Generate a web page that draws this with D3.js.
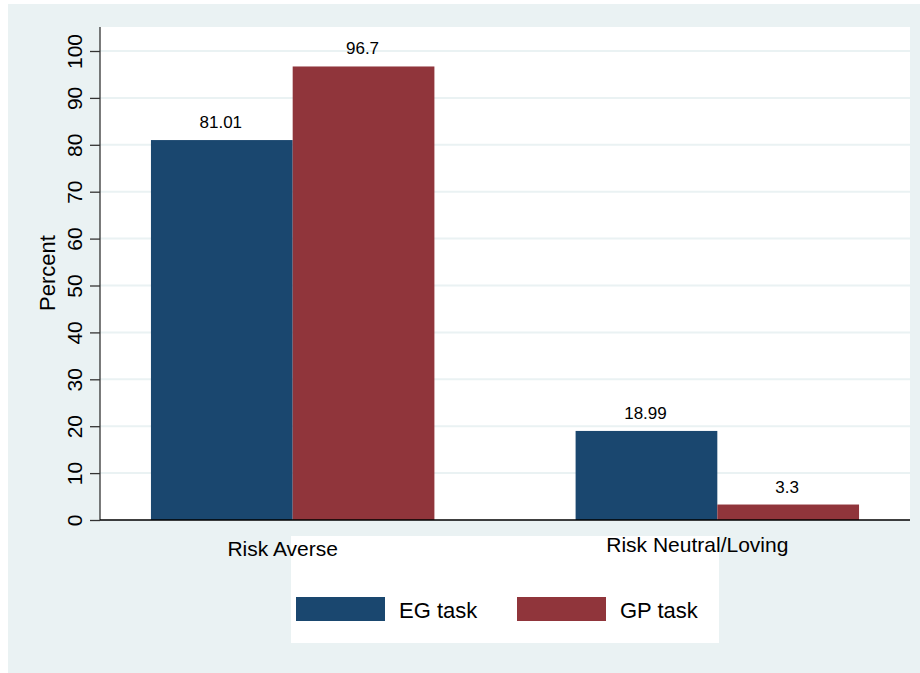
<!DOCTYPE html>
<html lang="en">
<head>
<meta charset="utf-8">
<title>Risk attitudes by task</title>
<script src="https://cdn.jsdelivr.net/npm/d3@7"></script>
<style>
  body { margin: 0; background: #fff; }
  text { font-family: "Liberation Sans", Arial, Helvetica, sans-serif; fill: #000; }
</style>
</head>
<body>
<script>
// data
var categories = ["Risk Averse", "Risk Neutral/Loving"];
var series = ["EG task", "GP task"];
var egValues = [81.01, 18.99];
var gpValues = [96.7, 3.3];
var yTicks = [0, 10, 20, 30, 40, 50, 60, 70, 80, 90, 100];

var colors = {"EG task": "#1a476f", "GP task": "#90353b"};
var w = 920, h = 673;
var plot = {left: 100, right: 910, top: 27, bottom: 520};

var svg = d3.select("body").append("svg")
  .attr("width", w).attr("height", h);

// outer background
svg.append("rect").attr("x", 8).attr("y", 4)
  .attr("width", w - 8).attr("height", h - 4).attr("fill", "#eaf2f3");
// plot region
svg.append("rect").attr("x", plot.left).attr("y", plot.top)
  .attr("width", plot.right - plot.left).attr("height", plot.bottom - plot.top)
  .attr("fill", "#fff");

var y = d3.scaleLinear().domain([0, 100]).range([plot.bottom, 51]);
var x0 = d3.scaleBand().domain(categories).range([plot.left, plot.right])
  .paddingInner(0.3325).paddingOuter(0.12);
var x1 = d3.scaleBand().domain(series).range([0, x0.bandwidth()]);

// gridlines
svg.append("g").selectAll("line")
  .data(yTicks.filter(function(d) { return d > 0; }))
  .enter().append("line")
  .attr("x1", plot.left).attr("x2", plot.right)
  .attr("y1", function(d) { return y(d); }).attr("y2", function(d) { return y(d); })
  .attr("stroke", "#eaf2f3").attr("stroke-width", 2);

// bars
var rows = categories.map(function(c, i) {
  return {cat: c, vals: [{s: "EG task", v: egValues[i]}, {s: "GP task", v: gpValues[i]}]};
});

var groups = svg.append("g").selectAll("g")
  .data(rows).enter().append("g")
  .attr("transform", function(d) { return "translate(" + x0(d.cat) + ",0)"; });

groups.selectAll("rect")
  .data(function(d) { return d.vals; })
  .enter().append("rect")
  .attr("x", function(d) { return x1(d.s); })
  .attr("width", x1.bandwidth())
  .attr("y", function(d) { return y(d.v); })
  .attr("height", function(d) { return y(0) - y(d.v); })
  .attr("fill", function(d) { return colors[d.s]; });

groups.selectAll("text")
  .data(function(d) { return d.vals; })
  .enter().append("text")
  .attr("x", function(d) { return x1(d.s) + x1.bandwidth() / 2 - 1; })
  .attr("y", function(d) { return y(d.v) - 12; })
  .attr("text-anchor", "middle")
  .attr("font-size", 17)
  .text(function(d) { return d.v; });

// y axis
var yAxis = d3.axisLeft(y).tickValues(yTicks).tickSize(10).tickPadding(6);
var ga = svg.append("g").attr("transform", "translate(" + plot.left + ",0)").call(yAxis);
ga.select(".domain").attr("d", "M0," + plot.top + "V" + plot.bottom)
  .attr("stroke", "#333").attr("stroke-width", 1.3);
ga.selectAll(".tick line").attr("stroke", "#333").attr("stroke-width", 1.3);
ga.selectAll(".tick text")
  .attr("font-size", 21)
  .attr("font-family", "'Liberation Sans', Arial, sans-serif")
  .attr("fill", "#000")
  .attr("transform", "rotate(-90)")
  .attr("x", 0).attr("y", -18)
  .attr("dy", "0")
  .attr("text-anchor", "middle");

// x axis line
svg.append("line").attr("x1", plot.left).attr("x2", plot.right)
  .attr("y1", plot.bottom).attr("y2", plot.bottom)
  .attr("stroke", "#000").attr("stroke-width", 1.5);

// y title
svg.append("text")
  .attr("transform", "translate(55," + 273 + ") rotate(-90)")
  .attr("text-anchor", "middle").attr("font-size", 22)
  .text("Percent");

// legend
var lg = svg.append("g");
lg.append("rect").attr("x", 291).attr("y", 536).attr("width", 428).attr("height", 107)
  .attr("fill", "#fff");
var legendX = [296, 517];
series.forEach(function(s, i) {
  lg.append("rect").attr("x", legendX[i]).attr("y", 597).attr("width", 89).attr("height", 24)
    .attr("fill", colors[s]);
  lg.append("text").attr("x", legendX[i] + 103).attr("y", 618)
    .attr("font-size", 22).text(s);
});

// category labels (drawn over the legend box, as in the original)
var labelNudge = [[-10, 556], [-20, 552]];
svg.append("g").selectAll("text")
  .data(categories).enter().append("text")
  .attr("x", function(d, i) { return x0(d) + x0.bandwidth() / 2 + labelNudge[i][0]; })
  .attr("y", function(d, i) { return labelNudge[i][1]; })
  .attr("text-anchor", "middle").attr("font-size", 21)
  .text(function(d) { return d; });
</script>
</body>
</html>
